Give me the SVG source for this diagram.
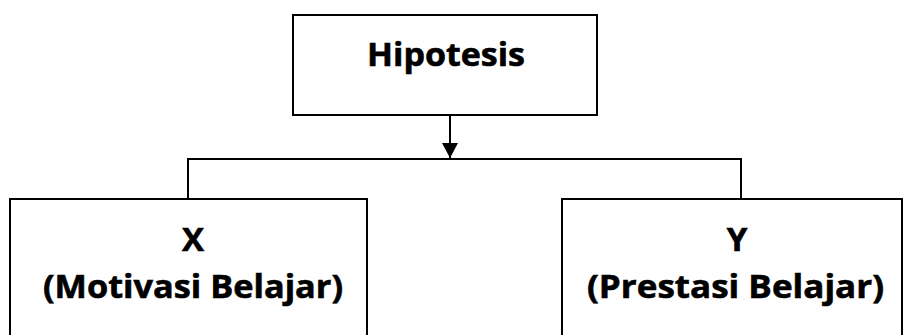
<svg xmlns="http://www.w3.org/2000/svg" width="903" height="335" viewBox="0 0 903 335">
<style>
.box{fill:#fff;stroke:#000;stroke-width:2}
.ln{fill:none;stroke:#000;stroke-width:2}
.t{font-family:"Open Sans","Liberation Sans",sans-serif;font-weight:bold;font-size:33px;fill:#000;stroke:#000;stroke-width:0.6;text-anchor:middle}
</style>
<defs>
<marker id="ah" markerUnits="userSpaceOnUse" markerWidth="16" markerHeight="16" refX="15" refY="8" orient="auto">
<path d="M0,0 L15,8 L0,16 Z" fill="#000"/>
</marker>
</defs>
<rect width="903" height="335" fill="#fff"/>
<g id="connectors">
<line class="ln" x1="450" y1="116" x2="450" y2="158" marker-end="url(#ah)"/>
<polyline class="ln" points="188,199 188,159 741,159 741,199"/>
</g>
<g id="hipotesis">
<rect class="box" x="293" y="15" width="304" height="100"/>
<text class="t" x="446" y="66" textLength="158" lengthAdjust="spacingAndGlyphs">Hipotesis</text>
</g>
<g id="x">
<rect class="box" x="10" y="199" width="357" height="150"/>
<text class="t" x="193" y="251">X</text>
<text class="t" x="193" y="298" textLength="300" lengthAdjust="spacingAndGlyphs">(Motivasi Belajar)</text>
</g>
<g id="y">
<rect class="box" x="562" y="199" width="340" height="150"/>
<text class="t" x="737" y="251">Y</text>
<text class="t" x="735.5" y="298" textLength="297" lengthAdjust="spacingAndGlyphs">(Prestasi Belajar)</text>
</g>
</svg>
